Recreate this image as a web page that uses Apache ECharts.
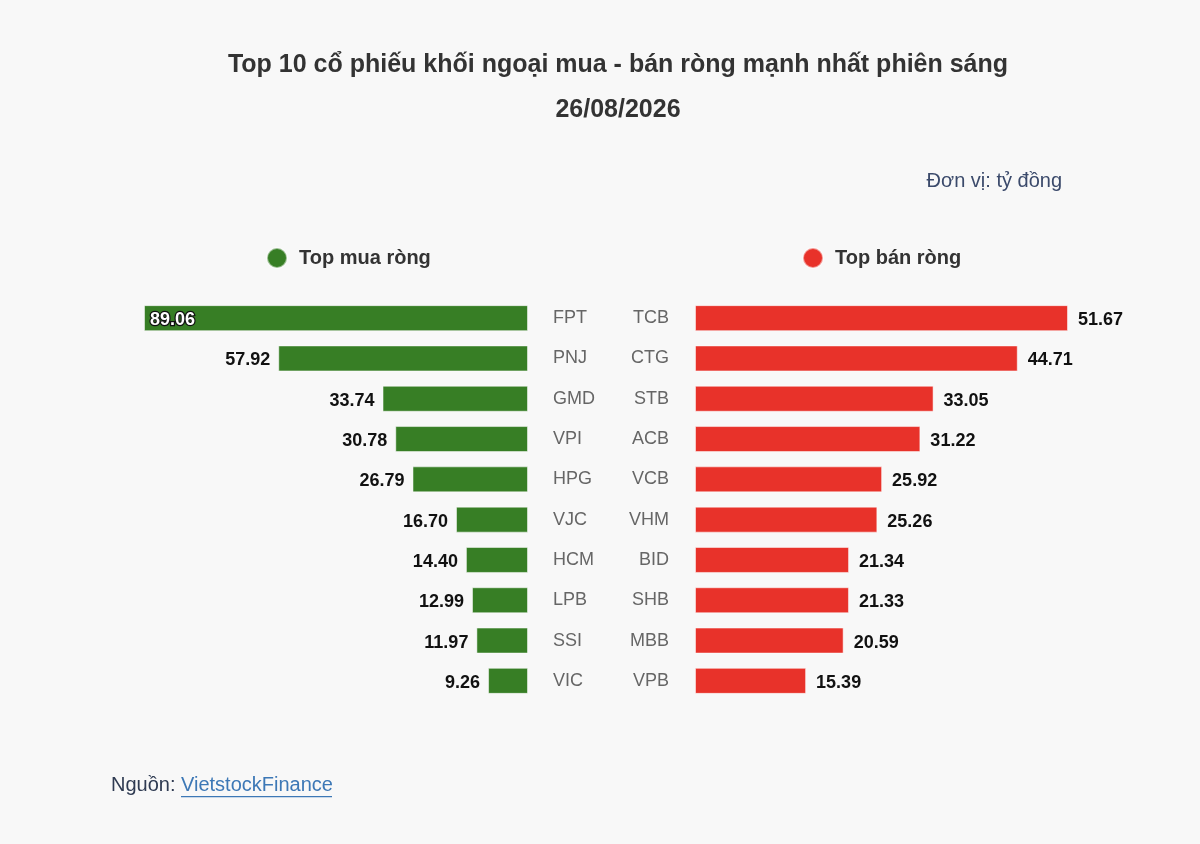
<!DOCTYPE html>
<html>
<head>
<meta charset="utf-8">
<script src="https://cdn.jsdelivr.net/npm/echarts@6/dist/echarts.min.js"></script>
<style>
  html, body { margin: 0; padding: 0; background: #f8f8f8; }
  #chart { width: 1200px; height: 844px; }
</style>
</head>
<body>
<div id="chart"></div>
<script>
// net buying (left) and net selling (right), ty dong
var buyTickers = ['FPT', 'PNJ', 'GMD', 'VPI', 'HPG', 'VJC', 'HCM', 'LPB', 'SSI', 'VIC'];
var buyValues = [89.06, 57.92, 33.74, 30.78, 26.79, 16.70, 14.40, 12.99, 11.97, 9.26];
var sellTickers = ['TCB', 'CTG', 'STB', 'ACB', 'VCB', 'VHM', 'BID', 'SHB', 'MBB', 'VPB'];
var sellValues = [51.67, 44.71, 33.05, 31.22, 25.92, 25.26, 21.34, 21.33, 20.59, 15.39];

var GREEN = '#377e25';
var RED = '#e8322a';
var FONT = '"Liberation Sans", Arial, Helvetica, sans-serif';

var chart = echarts.init(document.getElementById('chart'));

var valueLabel = {
  show: true,
  position: 'left',
  distance: 8,
  offset: [0, 2],
  color: '#111',
  fontFamily: FONT,
  fontSize: 18,
  fontWeight: 'bold',
  formatter: function(p) { return p.value.toFixed(2); }
};

// biggest bar gets its label inside, white with dark outline
var buyData = buyValues.map(function(v, i) {
  if (i === 0) {
    return {
      value: v,
      label: {
        position: 'insideLeft',
        distance: 6,
        color: '#fff',
        textBorderColor: '#111',
        textBorderWidth: 2.5
      }
    };
  }
  return v;
});

var catLabel = {
  color: '#666',
  fontFamily: FONT,
  fontSize: 18,
  padding: [5, 0, 0, 0]
};

var legendText = { color: '#333', fontFamily: FONT, fontSize: 20, fontWeight: 'bold', padding: [0, 0, 0, 7] };

var option = {
  backgroundColor: '#f8f8f8',
  animation: false,
  title: {
    text: 'Top 10 cổ phiếu khối ngoại mua - bán ròng mạnh nhất phiên sáng\n26/08/2026',
    left: 613,
    top: 38,
    textAlign: 'center',
    textStyle: {
      color: '#333',
      fontFamily: FONT,
      fontSize: 25,
      fontWeight: 'bold',
      lineHeight: 45,
      align: 'center'
    }
  },
  legend: [
    {
      data: ['Top mua ròng'],
      left: 266,
      top: 247,
      padding: 0,
      icon: 'circle',
      itemWidth: 20,
      itemHeight: 20,
      textStyle: legendText
    },
    {
      data: ['Top bán ròng'],
      left: 802,
      top: 247,
      padding: 0,
      icon: 'circle',
      itemWidth: 20,
      itemHeight: 20,
      textStyle: legendText
    }
  ],
  grid: [
    { left: 144, right: 672, top: 298, bottom: 143 },
    { left: 695, right: 132, top: 298, bottom: 143 }
  ],
  xAxis: [
    { type: 'value', gridIndex: 0, inverse: true, min: 0, max: 'dataMax', show: false },
    { type: 'value', gridIndex: 1, min: 0, max: 'dataMax', show: false }
  ],
  yAxis: [
    {
      type: 'category',
      gridIndex: 0,
      position: 'right',
      inverse: true,
      data: buyTickers,
      axisLine: { show: false },
      axisTick: { show: false },
      axisLabel: Object.assign({ margin: 25, align: 'left' }, catLabel)
    },
    {
      type: 'category',
      gridIndex: 1,
      position: 'left',
      inverse: true,
      data: sellTickers,
      axisLine: { show: false },
      axisTick: { show: false },
      axisLabel: Object.assign({ margin: 26, align: 'right' }, catLabel)
    }
  ],
  series: [
    {
      name: 'Top mua ròng',
      type: 'bar',
      xAxisIndex: 0,
      yAxisIndex: 0,
      barWidth: 26,
      itemStyle: { color: GREEN, borderColor: 'rgba(255,255,255,0.5)', borderWidth: 1 },
      label: valueLabel,
      data: buyData
    },
    {
      name: 'Top bán ròng',
      type: 'bar',
      xAxisIndex: 1,
      yAxisIndex: 1,
      barWidth: 26,
      itemStyle: { color: RED, borderColor: 'rgba(255,255,255,0.5)', borderWidth: 1 },
      label: Object.assign({}, valueLabel, { position: 'right', distance: 10 }),
      data: sellValues
    }
  ],
  graphic: [
    {
      type: 'text',
      right: 138,
      top: 171,
      style: { text: 'Đơn vị: tỷ đồng', fill: '#3b4a6b', font: '20px ' + FONT, textAlign: 'right' }
    },
    {
      type: 'text',
      left: 111,
      top: 775,
      style: { text: 'Nguồn:', fill: '#2f3b52', font: '20px ' + FONT }
    },
    {
      type: 'text',
      left: 181,
      top: 775,
      style: { text: 'VietstockFinance', fill: '#3d78b6', font: '20px ' + FONT }
    },
    {
      type: 'rect',
      left: 181,
      top: 796,
      shape: { width: 151, height: 1.2 },
      style: { fill: '#3d78b6' }
    }
  ]
};

chart.setOption(option);
</script>
</body>
</html>
